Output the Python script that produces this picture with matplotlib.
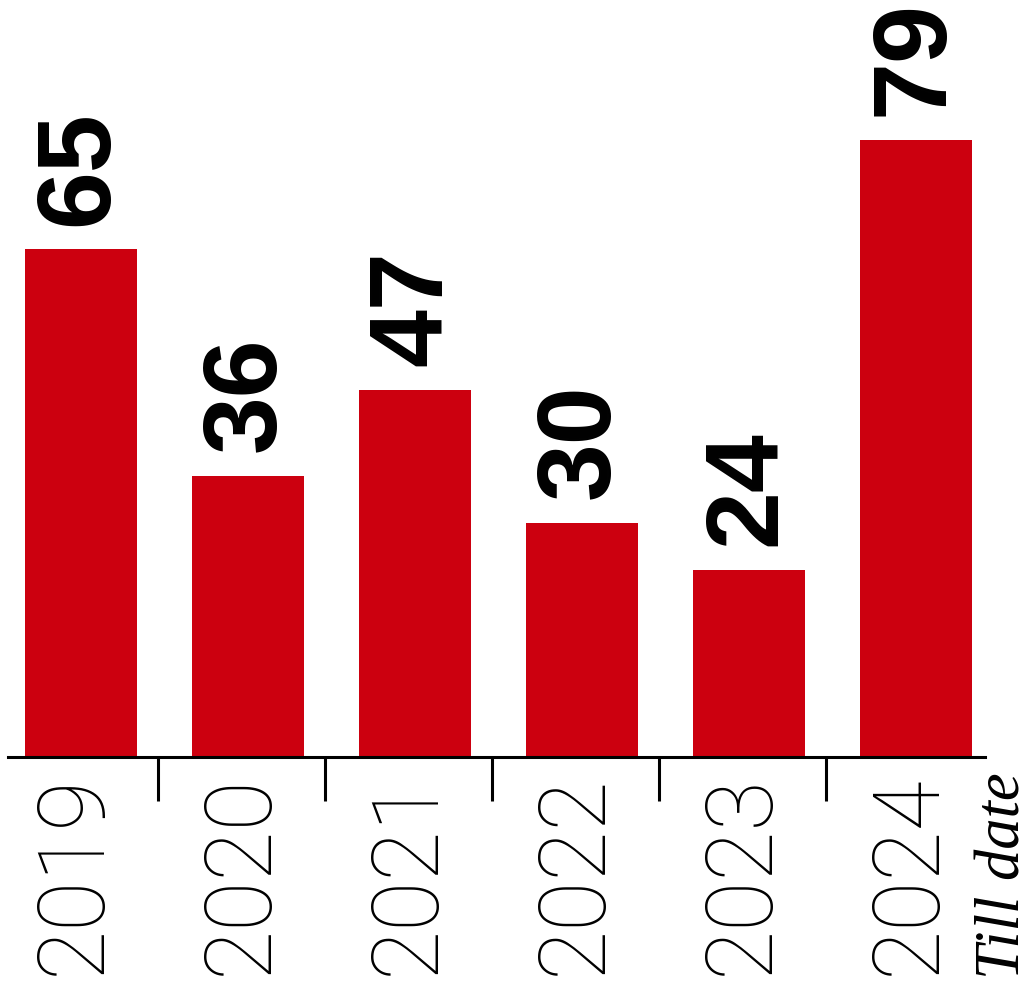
import matplotlib
matplotlib.use("Agg")
import matplotlib.pyplot as plt

# data
years = ['2019', '2020', '2021', '2022', '2023', '2024']
values = [65, 36, 47, 30, 24, 79]
note = 'Till date'

bar_color = '#CC000F'

fig = plt.figure(figsize=(10.32, 9.93), dpi=100)
ax = fig.add_axes([0, 0, 1, 1])

x = list(range(len(years)))
ax.bar(x, values, width=0.67, color=bar_color)

# value labels above each bar, rotated
for i, v in enumerate(values):
    ax.text(i, v + 3.0, str(v), rotation=90, ha='center', va='bottom',
            fontsize=75, fontweight='bold', family='Liberation Sans')

# year labels below the axis
for i, y in enumerate(years):
    ax.text(i - 0.04, -2.2, y, rotation=90, ha='center', va='top',
            fontsize=66, fontweight='light', family=['Roboto', 'DejaVu Sans'])

ax.text(5.53, -2.0, note, rotation=90, ha='center', va='top',
        fontsize=45, style='italic', family='Liberation Serif')

# baseline and separators between years
ax.axhline(0, xmin=0.008, xmax=0.954, color='black', lw=2.2)
ax.vlines([i + 0.46 for i in range(len(years) - 1)], -5.6, 0,
          color='black', lw=2.2)

ax.set_xlim(-0.485, 5.695)
ax.set_ylim(-30.2, 96.9)
ax.axis('off')

fig.savefig('out.png', dpi=100)
